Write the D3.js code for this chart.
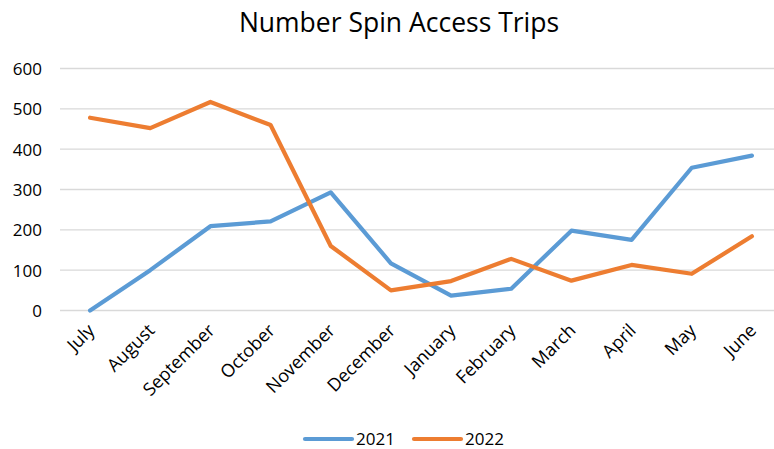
<!DOCTYPE html>
<html>
<head>
<meta charset="utf-8">
<script src="https://cdn.jsdelivr.net/npm/d3@7"></script>
<style>
  html, body { margin: 0; padding: 0; background: #fff; }
  svg { display: block; }
  text { font-family: "Open Sans", Lato, sans-serif; fill: #000; }
</style>
</head>
<body>
<svg id="chart" width="774" height="449"></svg>
<script>
const months = ["July","August","September","October","November","December","January","February","March","April","May","June"];
const series2021 = [0, 100, 209, 221, 293, 117, 37, 54, 198, 175, 354, 384];
const series2022 = [478, 452, 517, 460, 160, 50, 73, 128, 74, 113, 91, 184];
const yTicks = [0, 100, 200, 300, 400, 500, 600];
const seriesNames = ["2021", "2022"];
const colors = ["#5B9BD5", "#ED7D31"];

(function () {
const FONT = "'Open Sans', Lato, sans-serif";
const svg = d3.select("#chart");
const pLeft = 60, pRight = 782, pTop = 68.5, pBottom = 310.5;

const x = d3.scalePoint().domain(months).range([pLeft, pRight]).padding(0.5);
const y = d3.scaleLinear().domain([0, 600]).range([pBottom, pTop]);

// gridlines
svg.append("g").selectAll("line").data(yTicks).join("line")
  .attr("x1", pLeft).attr("x2", pRight)
  .attr("y1", d => y(d)).attr("y2", d => y(d))
  .attr("stroke", "#D9D9D9").attr("stroke-width", 1.3);

// y axis labels
const yAxis = d3.axisLeft(y).tickValues(yTicks).tickSize(0).tickPadding(0);
const gy = svg.append("g").attr("transform", `translate(${pLeft - 18},0)`).call(yAxis);
gy.select(".domain").remove();
gy.selectAll("text").style("font-size", "17px").attr("text-anchor", "end")
  .style("font-family", FONT).attr("fill", "#000").attr("dy", "0.35em");

// x axis labels
const xAxis = d3.axisBottom(x).tickSize(0).tickPadding(0);
const gx = svg.append("g").attr("transform", `translate(0,${pBottom})`).call(xAxis);
gx.select(".domain").remove();
gx.selectAll("text")
  .style("font-size", "18px")
  .style("font-family", FONT)
  .attr("fill", "#000")
  .attr("text-anchor", "end")
  .attr("dy", "0")
  .attr("y", 0)
  .attr("transform", "translate(5,21) rotate(-45)");

// lines
const line = d3.line().x((d, i) => x(months[i])).y(d => y(d));
[series2021, series2022].forEach((s, i) => {
  svg.append("path").datum(s)
    .attr("fill", "none")
    .attr("stroke", colors[i])
    .attr("stroke-width", 4.2)
    .attr("stroke-linejoin", "round")
    .attr("stroke-linecap", "round")
    .attr("d", line);
});

// title
svg.append("text").attr("x", 399).attr("y", 32)
  .attr("text-anchor", "middle").style("font-size", "26.5px")
  .text("Number Spin Access Trips");

// legend
const legendX = [305, 414];
seriesNames.forEach((n, i) => {
  const g = svg.append("g").attr("transform", `translate(${legendX[i]},439)`);
  g.append("line").attr("x1", 0).attr("x2", 47).attr("y1", 0).attr("y2", 0)
    .attr("stroke", colors[i]).attr("stroke-width", 4.2).attr("stroke-linecap", "round");
  g.append("text").attr("x", 51).attr("y", 6).style("font-size", "17px").text(n);
});
})();
</script>
</body>
</html>
